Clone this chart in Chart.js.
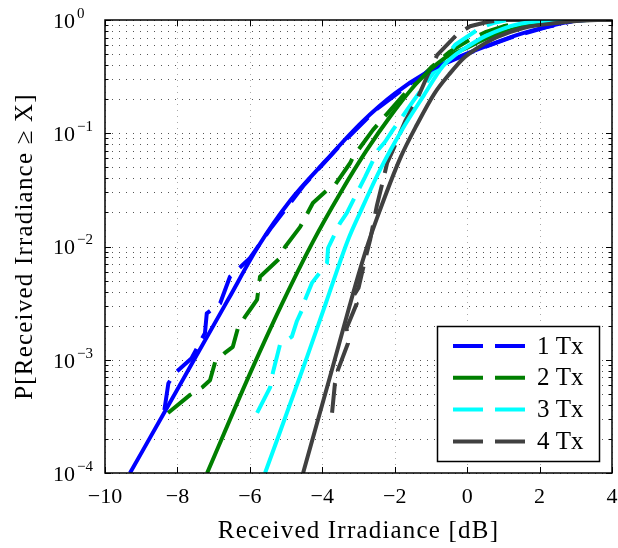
<!DOCTYPE html>
<html>
<head>
<meta charset="utf-8">
<script src="https://cdn.jsdelivr.net/npm/chart.js@4.4.1/dist/chart.umd.min.js"></script>
<style>
  html, body { margin: 0; padding: 0; background: #fff; }
  #wrap { width: 618px; height: 548px; }
</style>
</head>
<body>
<div id="wrap"><canvas id="chart" width="618" height="548"></canvas></div>
<script>
// tick labels
const xTickValues = [-10, -8, -6, -4, -2, 0, 2, 4];
const yDecades = [1, 0.1, 0.01, 0.001, 0.0001];
const legendLabels = ["1 Tx", "2 Tx", "3 Tx", "4 Tx"];
const txColors = ["#0000ff", "#007f00", "#00ffff", "#404040"];

// simulated curves (dashed)
const tx1SimX = [-8.36, -8.25, -8.07, -7.61, -7.24, -7.19, -6.82, -6.55, -6.0, -5.4, -4.5, -3.5, -2.5, -1.5, -0.6, 0.3, 1.2, 2.2, 3.0, 3.3, 4];
const tx1SimY = [3.6e-4, 6.2e-4, 7.6e-4, 1.03e-3, 1.72e-3, 2.57e-3, 3.15e-3, 5.4e-3, 7.9e-3, 0.0148, 0.035, 0.0787, 0.163, 0.285, 0.415, 0.55, 0.70, 0.867, 0.99, 1, 1];
const tx2SimX = [-8.26, -7.65, -7.32, -7.10, -6.96, -6.69, -6.47, -6.33, -6.13, -6.0, -5.80, -5.72, -5.17, -5.03, -4.61, -4.26, -3.87, -3.65, -3.23, -3.15, -2.60, -1.8, -1.0, -0.5, 0, 0.5, 1, 1.5, 2.0, 2.6, 4];
const tx2SimY = [3.39e-4, 4.9e-4, 5.7e-4, 6.6e-4, 9.5e-4, 1.15e-3, 1.3e-3, 1.9e-3, 2.4e-3, 2.75e-3, 3.4e-3, 5.4e-3, 7.9e-3, 9.9e-3, 0.0149, 0.0242, 0.0315, 0.035, 0.0546, 0.0617, 0.107, 0.21, 0.38, 0.52, 0.65, 0.78, 0.88, 0.95, 0.985, 1, 1];
const tx3SimX = [-5.80, -5.44, -5.36, -5.17, -4.84, -4.70, -4.56, -4.48, -4.28, -3.87, -3.84, -3.51, -3.32, -2.96, -2.82, -2.46, -2.27, -2.05, -1.5, -1.0, -0.33, 0.36, 0.72, 1.1, 4];
const tx3SimY = [3.4e-4, 5.7e-4, 7.8e-4, 1.35e-3, 1.6e-3, 2.2e-3, 2.75e-3, 3.37e-3, 4.8e-3, 7.1e-3, 9.7e-3, 0.0161, 0.0198, 0.0335, 0.041, 0.0711, 0.0837, 0.107, 0.19, 0.32, 0.605, 0.85, 0.94, 1, 1];
const tx4SimX = [-3.73, -3.65, -3.57, -3.29, -3.33, -3.05, -3.2, -3.0, -2.82, -2.68, -2.49, -2.32, -2.21, -2.05, -1.7, -1.39, -1.1, -0.83, -0.29, 0.08, 0.55, 0.95, 4];
const tx4SimY = [3.4e-4, 6.2e-4, 8.1e-4, 1.4e-3, 1.9e-3, 3.13e-3, 3.4e-3, 4.3e-3, 7.6e-3, 0.0114, 0.0232, 0.0386, 0.0546, 0.071, 0.13, 0.197, 0.32, 0.49, 0.74, 0.88, 0.96, 1, 1];

// analytical curves (solid)
const tx1ThX = [-9.31, -8.28, -7.54, -6.6, -5.77, -4.9, -3.9, -2.9, -2.0, -1.1, -0.3, 0.6, 1.5, 2.4, 3.0, 3.3, 4];
const tx1ThY = [1e-4, 3.8e-4, 1.0e-3, 3.4e-3, 0.0100, 0.0251, 0.0575, 0.126, 0.224, 0.347, 0.462, 0.600, 0.759, 0.902, 0.99, 1, 1];
const tx2ThX = [-7.18, -6.0, -5.11, -4.26, -3.5, -2.8, -2.1, -1.4, -0.67, 0, 0.5, 1, 1.5, 2, 2.5, 3, 3.4, 4];
const tx2ThY = [1e-4, 7.5e-4, 3.13e-3, 0.011, 0.0297, 0.0687, 0.144, 0.275, 0.45, 0.57, 0.68, 0.78, 0.87, 0.93, 0.97, 0.99, 1, 1];
const tx3ThX = [-5.58, -4.42, -3.90, -3.29, -2.96, -2.4, -1.8, -1.2, -0.67, -0.3, 0, 0.5, 1, 1.5, 2, 2.5, 3, 4];
const tx3ThY = [1e-4, 1.06e-3, 3.17e-3, 0.0114, 0.0198, 0.048, 0.107, 0.215, 0.39, 0.5, 0.58, 0.72, 0.84, 0.93, 0.975, 0.995, 1, 1];
const tx4ThX = [-4.53, -3.76, -3.24, -3.0, -2.74, -2.49, -1.85, -1.38, -0.9, -0.5, -0.1, 0.3, 0.8, 1.55, 2.47, 3.2, 3.6, 4];
const tx4ThY = [1e-4, 7.6e-4, 3.04e-3, 5.65e-3, 0.0105, 0.0178, 0.06, 0.12, 0.225, 0.33, 0.46, 0.57, 0.7, 0.85, 0.94, 0.99, 1, 1];

const simX = [tx1SimX, tx2SimX, tx3SimX, tx4SimX];
const simY = [tx1SimY, tx2SimY, tx3SimY, tx4SimY];
const thX = [tx1ThX, tx2ThX, tx3ThX, tx4ThX];
const thY = [tx1ThY, tx2ThY, tx3ThY, tx4ThY];

const yGridValues = [];
yDecades.forEach(d => {
  if (d < 1) for (let m = 1; m <= 9; m++) yGridValues.push(d * m);
});
yGridValues.push(1);

function pts(xs, ys) {
  return xs.map((x, i) => ({ x: x, y: ys[i] }));
}

const serif = '"Liberation Serif", "Times New Roman", serif';
const dashPattern = [30, 12];

// matlab plotted the dashed ones first, the solid ones on top
const datasets = [];
for (let k = 0; k < 4; k++) {
  datasets.push({
    label: legendLabels[k],
    data: pts(simX[k], simY[k]),
    borderColor: txColors[k],
    borderWidth: 4,
    borderDash: dashPattern,
    borderJoinStyle: "round",
    tension: 0,
    pointRadius: 0,
    fill: false,
    clip: 0,
    order: 7 - k
  });
}
for (let k = 0; k < 4; k++) {
  datasets.push({
    label: legendLabels[k] + " theory",
    data: pts(thX[k], thY[k]),
    borderColor: txColors[k],
    borderWidth: 4,
    cubicInterpolationMode: "monotone",
    pointRadius: 0,
    fill: false,
    clip: 0,
    order: 3 - k
  });
}

const matlabAxes = {
  id: "matlabAxes",
  beforeDatasetsDraw(chart) {
    const { ctx, chartArea: a, scales: { x, y } } = chart;
    ctx.save();
    ctx.lineWidth = 1;
    ctx.strokeStyle = "#555";
    ctx.setLineDash([1, 6]);
    yGridValues.forEach(v => {
      const py = Math.round(y.getPixelForValue(v)) + 0.5;
      ctx.beginPath();
      ctx.moveTo(a.left, py);
      ctx.lineTo(a.right, py);
      ctx.stroke();
    });
    ctx.strokeStyle = "#aaa";
    ctx.setLineDash([1, 5]);
    xTickValues.forEach(v => {
      const px = Math.round(x.getPixelForValue(v)) + 0.5;
      ctx.beginPath();
      ctx.moveTo(px, a.top);
      ctx.lineTo(px, a.bottom);
      ctx.stroke();
    });
    ctx.restore();
  },
  afterDatasetsDraw(chart) {
    const { ctx, chartArea: a, scales: { x, y } } = chart;
    ctx.save();
    ctx.setLineDash([]);
    ctx.strokeStyle = "#000";
    ctx.lineWidth = 1;

    // ticks, inward, on all four sides
    ctx.beginPath();
    xTickValues.forEach(v => {
      const px = Math.round(x.getPixelForValue(v)) + 0.5;
      ctx.moveTo(px, a.bottom); ctx.lineTo(px, a.bottom - 6);
      ctx.moveTo(px, a.top); ctx.lineTo(px, a.top + 6);
    });
    yGridValues.forEach(v => {
      const py = Math.round(y.getPixelForValue(v)) + 0.5;
      const len = yDecades.includes(v) ? 6 : 3.5;
      ctx.moveTo(a.left, py); ctx.lineTo(a.left + len, py);
      ctx.moveTo(a.right, py); ctx.lineTo(a.right - len, py);
    });
    ctx.stroke();

    ctx.lineWidth = 1.5;
    ctx.strokeRect(a.left, a.top, a.right - a.left, a.bottom - a.top);

    // tick labels
    ctx.fillStyle = "#000";
    ctx.font = "22px " + serif;
    ctx.textAlign = "center";
    ctx.textBaseline = "middle";
    xTickValues.forEach(v => {
      const txt = v < 0 ? "\u2212" + Math.abs(v) : String(v);
      ctx.fillText(txt, x.getPixelForValue(v), a.bottom + 24);
    });
    yDecades.forEach(v => {
      const py = y.getPixelForValue(v);
      const e = Math.round(Math.log10(v));
      ctx.font = "22px " + serif;
      ctx.textAlign = "right";
      ctx.fillText("10", 75, py + 2);
      ctx.font = "15px " + serif;
      ctx.textAlign = "left";
      ctx.fillText(e === 0 ? "0" : "\u2212" + Math.abs(e), 77, py - 6);
    });

    // axis titles
    ctx.font = "25px " + serif;
    ctx.letterSpacing = "1.2px";
    ctx.textAlign = "center";
    ctx.fillText("Received Irradiance [dB]", (a.left + a.right) / 2, 531);
    ctx.save();
    ctx.translate(25, (a.top + a.bottom) / 2);
    ctx.rotate(-Math.PI / 2);
    ctx.fillText("P[Received Irradiance \u2265 X]", 0, 0);
    ctx.restore();
    ctx.letterSpacing = "0px";

    // legend box
    const lx = 437, ly = 326, lw = 162, lh = 135;
    ctx.fillStyle = "#fff";
    ctx.fillRect(lx, ly, lw, lh);
    ctx.lineWidth = 1.5;
    ctx.strokeStyle = "#000";
    ctx.strokeRect(lx + 0.5, ly + 0.5, lw, lh);
    legendLabels.forEach((lab, k) => {
      const cy = ly + 20 + k * 31.8;
      ctx.strokeStyle = txColors[k];
      ctx.lineWidth = 4;
      ctx.setLineDash(dashPattern);
      ctx.beginPath();
      ctx.moveTo(453, cy);
      ctx.lineTo(528, cy);
      ctx.stroke();
      ctx.setLineDash([]);
      ctx.fillStyle = "#000";
      ctx.font = "25px " + serif;
      ctx.textAlign = "left";
      ctx.fillText(lab, 537, cy + 1);
    });
    ctx.restore();
  }
};

new Chart(document.getElementById("chart"), {
  type: "line",
  data: { datasets: datasets },
  options: {
    responsive: false,
    animation: false,
    layout: { padding: { top: 20, right: 6, left: 0, bottom: 0 } },
    plugins: { legend: { display: false }, tooltip: { enabled: false } },
    scales: {
      x: {
        type: "linear",
        min: -10,
        max: 4,
        grid: { display: false },
        border: { display: false },
        ticks: { display: false },
        afterFit(scale) { scale.height = 75; }
      },
      y: {
        type: "logarithmic",
        min: 1e-4,
        max: 1,
        grid: { display: false },
        border: { display: false },
        ticks: { display: false },
        afterBuildTicks(scale) {
          scale.ticks = yGridValues.map(v => ({ value: v }));
        },
        afterFit(scale) { scale.width = 105; }
      }
    }
  },
  plugins: [matlabAxes]
});
</script>
</body>
</html>
